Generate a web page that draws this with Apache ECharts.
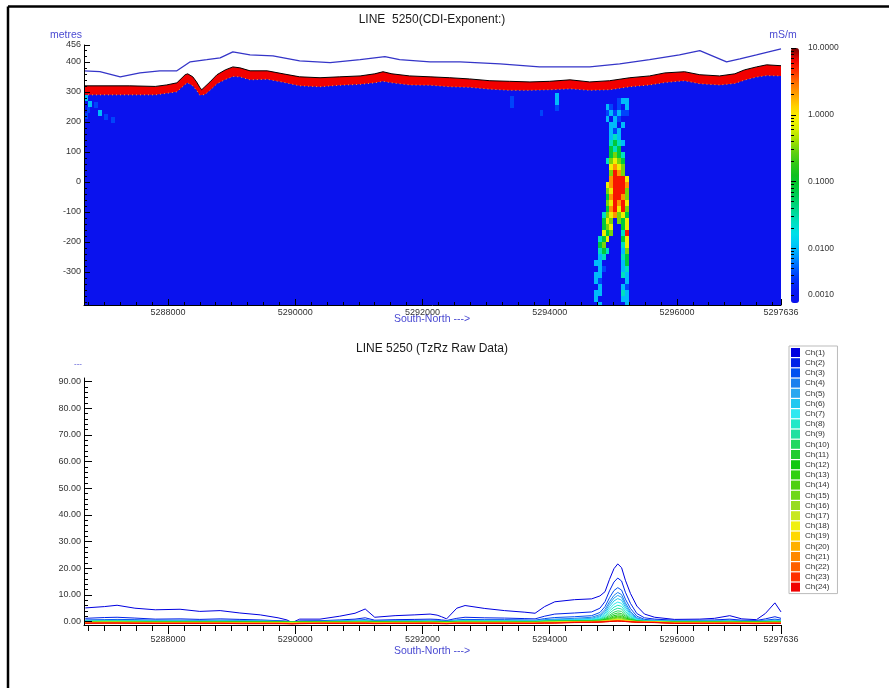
<!DOCTYPE html>
<html>
<head>
<meta charset="utf-8">
<script src="https://cdn.jsdelivr.net/npm/echarts@6.0.0/dist/echarts.min.js"></script>
<style>
  html, body { margin: 0; padding: 0; background: #fff; }
  #chart { width: 889px; height: 688px; }
</style>
</head>
<body>
<div id="chart"></div>
<script>
// ---------- Conductivity-depth section (line 5250) ----------
// Ground surface stations along the line (northing, m) and elevation (m)
const sectionX = [5286680, 5287400, 5287800, 5287980, 5288140, 5288270, 5288310, 5288390, 5288450, 5288500,
  5288530, 5288580, 5288660, 5288770, 5288900, 5289020, 5289130, 5289290, 5289560, 5289810,
  5290070, 5290390, 5290700, 5291020, 5291250, 5291380, 5291520, 5291800, 5292120, 5292430,
  5292740, 5293060, 5293370, 5293690, 5294000, 5294320, 5294630, 5294940, 5295260, 5295570,
  5295810, 5296120, 5296360, 5296670, 5296910, 5297060, 5297250, 5297410, 5297636];
const terrainTop = [320, 320, 318, 323, 330, 357, 360, 350, 333, 315,
  307, 317, 333, 357, 373, 383, 380, 370, 370, 360,
  350, 347, 350, 353, 360, 367, 360, 353, 350, 347,
  343, 337, 335, 333, 335, 340, 333, 337, 347, 353,
  363, 367, 357, 353, 360, 373, 383, 390, 387];
// thickness of the conductive surface layer (m)
const layerThick = [30, 30, 28, 28, 30, 32, 30, 30, 28, 26,
  24, 26, 28, 30, 32, 32, 30, 30, 28, 28,
  30, 30, 28, 28, 30, 32, 30, 30, 28, 30,
  28, 28, 30, 28, 28, 30, 28, 30, 30, 30,
  32, 30, 30, 30, 32, 34, 34, 36, 34];

// Sensor (flight) elevation
const flightX = [5286680, 5286930, 5287250, 5287560, 5287870, 5288140, 5288350, 5288610, 5288820, 5289020,
  5289290, 5289650, 5290070, 5290550, 5291020, 5291410, 5291640, 5292120, 5292590, 5293220,
  5293840, 5294160, 5294630, 5295100, 5295570, 5296040, 5296360, 5296780, 5296990, 5297250, 5297636];
const flightZ = [370, 367, 350, 363, 370, 370, 400, 407, 413, 433,
  423, 420, 403, 397, 407, 417, 407, 400, 400, 393,
  383, 383, 383, 393, 407, 423, 437, 400, 410, 423, 443];

// CDI cell classes -> log10(conductivity, mS/m)
const cdiClass = { b: -2.4, c: -2.0, t: -1.6, g: -1.1, l: -0.5, y: -0.1, o: 0.35, r: 0.75 };

// Conductor near 5295000: cells of 60 m x 20 m, first row tops at 280 m
const anomalyX0 = 5294700, anomalyDx = 60, anomalyTop = 280, anomalyDz = 20;
const anomalyRows = [
  "......bcc..",
  "...cb.b.c..",
  "...bcbcbb..",
  "...c.cb....",
  "....cc.c...",
  "....cbc....",
  "....ctc....",
  "....tgtc...",
  "....gtg....",
  "....glgt...",
  "...tlylg...",
  "....yoyl...",
  "....lrol...",
  "....orrry..",
  "...yorrro..",
  "...lyrrrl..",
  "...gorrol..",
  "...lyrory..",
  "...goryrl..",
  "..tlyolyg..",
  "..gyl.lgy..",
  "..gly..gy..",
  "..ygl..tr..",
  ".tgy...gy..",
  ".gl....ty..",
  ".tgt...cl..",
  ".ct....tg..",
  "cc.....cg..",
  ".cb....ct..",
  "cc.....tc..",
  "cb......c..",
  ".c.....cb..",
  "cc.....tc..",
  "c......cc..",
  ".c......c.."
];
// isolated shallow cells: [northing, cell top elevation, class]
const shallowCells = [
  [5286690, 290, 'c'], [5286750, 270, 'c'], [5286720, 250, 'b'], [5286840, 265, 'b'],
  [5286900, 240, 'c'], [5287000, 225, 'b'], [5287100, 215, 'b'], [5286690, 230, 'b'],
  [5293380, 285, 'b'], [5293380, 265, 'b'], [5293840, 240, 'b'],
  [5294080, 295, 'c'], [5294080, 275, 'c'], [5294080, 255, 'b']
];

// ---------- TzRz raw data, 24 channels ----------
const tzX = [5286700, 5287000, 5287200, 5287480, 5287800, 5288190, 5288500, 5288820, 5289130, 5289450,
  5289730, 5289870, 5289950, 5290070, 5290390, 5290700, 5290940, 5291100, 5291250, 5291570,
  5291880, 5292120, 5292230, 5292300, 5292380, 5292540, 5292670, 5292980, 5293290, 5293610,
  5293770, 5293920, 5294080, 5294390, 5294660, 5294790, 5294870, 5294940, 5295010, 5295070,
  5295130, 5295190, 5295270, 5295370, 5295490, 5295650, 5295960, 5296360, 5296590, 5296830,
  5297020, 5297250, 5297390, 5297540, 5297636];
const ch01 = [5.1, 5.6, 6.1, 5.0, 4.4, 4.6, 3.8, 4.1, 3.2, 2.5, 1.4, 0.6, -0.4, 0.9, 0.9, 2.0, 3.1, 4.7, 1.6, 2.2, 2.5, 2.8, 2.4, 1.8, 1.0, 5.0, 6.0, 4.9, 4.1, 3.5, 3.1, 5.6, 7.4, 8.2, 8.5, 9.6, 11.2, 15.8, 19.8, 21.6, 20.2, 15.5, 10.5, 5.8, 2.8, 1.6, 0.8, 0.9, 1.2, 2.2, 1.0, 0.7, 3.0, 7.0, 3.6];
const ch02 = [1.2, 1.5, 1.6, 1.3, 0.9, 1.0, 0.8, 1.0, 0.8, 0.6, 0.3, 0.1, -0.3, 0.2, 0.3, 0.6, 0.9, 1.4, 0.5, 0.7, 0.8, 0.9, 0.8, 0.6, 0.4, 1.2, 1.6, 1.4, 1.3, 1.1, 1.0, 2.0, 2.8, 3.2, 3.6, 5.0, 7.5, 11.5, 14.8, 16.3, 15.2, 11.0, 6.8, 3.0, 1.4, 0.9, 0.5, 0.5, 0.6, 0.9, 0.5, 0.4, 1.0, 1.8, 1.2];
const ch03 = [0.6, 0.7, 0.8, 0.7, 0.5, 0.5, 0.4, 0.5, 0.4, 0.3, 0.2, 0.1, -0.2, 0.1, 0.2, 0.3, 0.5, 0.7, 0.3, 0.4, 0.4, 0.5, 0.4, 0.3, 0.2, 0.6, 0.8, 0.7, 0.7, 0.6, 0.5, 1.1, 1.5, 1.8, 2.2, 3.4, 5.6, 8.9, 11.6, 12.7, 11.8, 8.4, 4.9, 2.0, 0.8, 0.5, 0.3, 0.3, 0.3, 0.5, 0.3, 0.2, 0.5, 0.9, 0.6];
const ch04 = [0.4, 0.5, 0.5, 0.4, 0.3, 0.3, 0.3, 0.3, 0.3, 0.2, 0.1, 0.0, -0.2, 0.1, 0.1, 0.2, 0.3, 0.4, 0.2, 0.2, 0.3, 0.3, 0.3, 0.2, 0.1, 0.4, 0.5, 0.4, 0.4, 0.4, 0.3, 0.7, 0.9, 1.2, 1.6, 2.6, 4.5, 7.4, 9.8, 10.9, 10.1, 7.0, 3.8, 1.4, 0.5, 0.3, 0.2, 0.2, 0.2, 0.3, 0.2, 0.1, 0.3, 0.5, 0.4];
const ch05 = [0.3, 0.4, 0.4, 0.3, 0.2, 0.2, 0.2, 0.2, 0.2, 0.2, 0.1, 0.0, -0.2, 0.0, 0.1, 0.2, 0.2, 0.3, 0.1, 0.2, 0.2, 0.2, 0.2, 0.1, 0.1, 0.3, 0.4, 0.3, 0.3, 0.3, 0.2, 0.5, 0.7, 0.9, 1.2, 2.1, 3.8, 6.5, 8.8, 9.8, 9.1, 6.2, 3.2, 1.1, 0.4, 0.2, 0.2, 0.1, 0.2, 0.2, 0.1, 0.1, 0.2, 0.4, 0.3];
const ch06 = [0.2, 0.3, 0.3, 0.2, 0.2, 0.2, 0.1, 0.2, 0.1, 0.1, 0.0, 0.0, -0.2, 0.0, 0.0, 0.1, 0.2, 0.2, 0.1, 0.1, 0.1, 0.2, 0.1, 0.1, 0.0, 0.2, 0.3, 0.2, 0.2, 0.2, 0.2, 0.4, 0.5, 0.7, 0.9, 1.7, 3.2, 5.6, 7.7, 8.6, 8.0, 5.4, 2.7, 0.9, 0.3, 0.2, 0.1, 0.1, 0.1, 0.2, 0.1, 0.0, 0.1, 0.3, 0.2];
const ch07 = [0.2, 0.2, 0.2, 0.2, 0.1, 0.1, 0.1, 0.1, 0.1, 0.1, 0.0, -0.1, -0.2, 0.0, 0.0, 0.1, 0.1, 0.2, 0.0, 0.1, 0.1, 0.1, 0.1, 0.0, 0.0, 0.2, 0.2, 0.2, 0.2, 0.1, 0.1, 0.3, 0.4, 0.5, 0.7, 1.3, 2.6, 4.7, 6.5, 7.3, 6.8, 4.6, 2.2, 0.7, 0.2, 0.1, 0.1, 0.1, 0.1, 0.1, 0.0, 0.0, 0.1, 0.2, 0.1];
const ch08 = [0.1, 0.2, 0.2, 0.1, 0.1, 0.1, 0.0, 0.1, 0.0, 0.0, 0.0, -0.1, -0.2, -0.1, 0.0, 0.0, 0.1, 0.1, 0.0, 0.0, 0.1, 0.1, 0.0, 0.0, -0.1, 0.1, 0.2, 0.1, 0.1, 0.1, 0.1, 0.2, 0.3, 0.4, 0.5, 1.0, 2.1, 3.9, 5.4, 6.1, 5.7, 3.8, 1.8, 0.5, 0.2, 0.1, 0.0, 0.0, 0.0, 0.1, 0.0, -0.1, 0.0, 0.1, 0.1];
const ch09 = [0.1, 0.1, 0.1, 0.1, 0.0, 0.0, 0.0, 0.0, 0.0, 0.0, -0.1, -0.1, -0.2, -0.1, 0.0, 0.0, 0.0, 0.1, 0.0, 0.0, 0.0, 0.0, 0.0, -0.1, -0.1, 0.1, 0.1, 0.1, 0.1, 0.0, 0.0, 0.2, 0.2, 0.3, 0.4, 0.8, 1.6, 3.1, 4.4, 5.0, 4.7, 3.1, 1.4, 0.4, 0.1, 0.1, 0.0, 0.0, 0.0, 0.0, 0.0, -0.1, 0.0, 0.1, 0.0];
const ch10 = [0.0, 0.1, 0.1, 0.0, 0.0, 0.0, 0.0, 0.0, -0.1, -0.1, -0.1, -0.1, -0.2, -0.1, -0.1, 0.0, 0.0, 0.0, -0.1, 0.0, 0.0, 0.0, 0.0, -0.1, -0.1, 0.0, 0.1, 0.0, 0.0, 0.0, 0.0, 0.1, 0.2, 0.2, 0.3, 0.6, 1.2, 2.4, 3.5, 4.0, 3.8, 2.5, 1.1, 0.3, 0.1, 0.0, 0.0, -0.1, 0.0, 0.0, -0.1, -0.1, 0.0, 0.0, 0.0];
const ch11 = [0.0, 0.0, 0.0, 0.0, -0.1, -0.1, -0.1, -0.1, -0.1, -0.1, -0.1, -0.2, -0.2, -0.1, -0.1, -0.1, 0.0, 0.0, -0.1, -0.1, -0.1, 0.0, -0.1, -0.1, -0.2, 0.0, 0.0, 0.0, 0.0, -0.1, -0.1, 0.1, 0.1, 0.2, 0.2, 0.4, 0.9, 1.9, 2.8, 3.2, 3.0, 2.0, 0.8, 0.2, 0.1, 0.0, -0.1, -0.1, -0.1, 0.0, -0.1, -0.1, -0.1, 0.0, -0.1];
const ch12 = [-0.1, 0.0, 0.0, -0.1, -0.1, -0.1, -0.1, -0.1, -0.1, -0.2, -0.2, -0.2, -0.3, -0.2, -0.1, -0.1, -0.1, 0.0, -0.1, -0.1, -0.1, -0.1, -0.1, -0.2, -0.2, -0.1, 0.0, -0.1, -0.1, -0.1, -0.1, 0.0, 0.1, 0.1, 0.2, 0.3, 0.7, 1.4, 2.2, 2.5, 2.4, 1.5, 0.6, 0.1, 0.0, 0.0, -0.1, -0.1, -0.1, -0.1, -0.1, -0.2, -0.1, -0.1, -0.1];
const ch13 = [-0.1, -0.1, -0.1, -0.1, -0.2, -0.2, -0.2, -0.2, -0.2, -0.2, -0.2, -0.3, -0.3, -0.2, -0.2, -0.2, -0.1, -0.1, -0.2, -0.2, -0.2, -0.1, -0.2, -0.2, -0.3, -0.1, -0.1, -0.1, -0.1, -0.2, -0.2, -0.1, 0.0, 0.1, 0.1, 0.2, 0.5, 1.1, 1.7, 2.0, 1.9, 1.2, 0.5, 0.1, 0.0, 0.0, -0.2, -0.2, -0.2, -0.1, -0.2, -0.2, -0.2, -0.1, -0.2];
const ch14 = [-0.2, -0.1, -0.1, -0.2, -0.2, -0.2, -0.2, -0.2, -0.3, -0.3, -0.3, -0.3, -0.4, -0.3, -0.2, -0.2, -0.2, -0.2, -0.3, -0.2, -0.2, -0.2, -0.2, -0.3, -0.3, -0.2, -0.2, -0.2, -0.2, -0.2, -0.2, -0.1, -0.1, 0.0, 0.1, 0.2, 0.4, 0.9, 1.4, 1.6, 1.5, 0.9, 0.4, 0.1, 0.0, -0.1, -0.2, -0.2, -0.2, -0.2, -0.2, -0.3, -0.2, -0.2, -0.2];
const ch15 = [-0.2, -0.2, -0.2, -0.2, -0.3, -0.3, -0.3, -0.3, -0.3, -0.3, -0.3, -0.4, -0.4, -0.3, -0.3, -0.3, -0.2, -0.2, -0.3, -0.3, -0.3, -0.2, -0.3, -0.3, -0.4, -0.2, -0.2, -0.2, -0.2, -0.3, -0.3, -0.2, -0.1, 0.0, 0.1, 0.1, 0.3, 0.7, 1.1, 1.3, 1.2, 0.7, 0.3, 0.0, 0.0, -0.1, -0.3, -0.3, -0.3, -0.2, -0.3, -0.3, -0.3, -0.2, -0.3];
const ch16 = [-0.3, -0.2, -0.2, -0.3, -0.3, -0.3, -0.3, -0.3, -0.4, -0.4, -0.4, -0.4, -0.5, -0.4, -0.3, -0.3, -0.3, -0.3, -0.4, -0.3, -0.3, -0.3, -0.3, -0.4, -0.4, -0.3, -0.3, -0.3, -0.3, -0.3, -0.3, -0.2, -0.2, 0.0, 0.0, 0.1, 0.2, 0.5, 0.8, 1.0, 0.9, 0.6, 0.2, 0.0, -0.1, -0.1, -0.3, -0.3, -0.3, -0.3, -0.3, -0.4, -0.3, -0.3, -0.3];
const ch17 = [-0.3, -0.3, -0.3, -0.3, -0.4, -0.4, -0.4, -0.4, -0.4, -0.4, -0.4, -0.5, -0.5, -0.4, -0.4, -0.4, -0.3, -0.3, -0.4, -0.4, -0.4, -0.3, -0.4, -0.4, -0.5, -0.3, -0.3, -0.3, -0.3, -0.4, -0.4, -0.3, -0.2, 0.0, 0.0, 0.1, 0.2, 0.4, 0.7, 0.8, 0.7, 0.4, 0.2, 0.0, -0.1, -0.1, -0.4, -0.4, -0.4, -0.3, -0.4, -0.4, -0.4, -0.3, -0.4];
const ch18 = [-0.4, -0.3, -0.3, -0.4, -0.4, -0.4, -0.4, -0.4, -0.5, -0.5, -0.5, -0.5, -0.6, -0.5, -0.4, -0.4, -0.4, -0.4, -0.5, -0.4, -0.4, -0.4, -0.4, -0.5, -0.5, -0.4, -0.4, -0.4, -0.4, -0.4, -0.4, -0.3, -0.3, -0.1, 0.0, 0.0, 0.1, 0.3, 0.5, 0.6, 0.5, 0.3, 0.1, -0.1, -0.1, -0.2, -0.4, -0.4, -0.4, -0.4, -0.4, -0.5, -0.4, -0.4, -0.4];
const ch19 = [-0.4, -0.4, -0.4, -0.4, -0.5, -0.5, -0.5, -0.5, -0.5, -0.5, -0.5, -0.6, -0.6, -0.5, -0.5, -0.5, -0.4, -0.4, -0.5, -0.5, -0.5, -0.4, -0.5, -0.5, -0.6, -0.4, -0.4, -0.4, -0.4, -0.5, -0.5, -0.4, -0.3, -0.1, -0.1, 0.0, 0.1, 0.2, 0.4, 0.5, 0.4, 0.3, 0.1, -0.1, -0.2, -0.2, -0.5, -0.5, -0.5, -0.4, -0.5, -0.5, -0.5, -0.4, -0.5];
const ch20 = [-0.5, -0.4, -0.4, -0.5, -0.5, -0.5, -0.5, -0.5, -0.6, -0.6, -0.6, -0.6, -0.7, -0.6, -0.5, -0.5, -0.5, -0.5, -0.6, -0.5, -0.5, -0.5, -0.5, -0.6, -0.6, -0.5, -0.5, -0.5, -0.5, -0.5, -0.5, -0.4, -0.4, -0.2, -0.1, 0.0, 0.1, 0.2, 0.3, 0.4, 0.3, 0.2, 0.0, -0.1, -0.2, -0.2, -0.5, -0.5, -0.5, -0.5, -0.5, -0.6, -0.5, -0.5, -0.5];
const ch21 = [-0.5, -0.5, -0.5, -0.5, -0.6, -0.6, -0.6, -0.6, -0.6, -0.6, -0.6, -0.7, -0.7, -0.6, -0.6, -0.6, -0.5, -0.5, -0.6, -0.6, -0.6, -0.5, -0.6, -0.6, -0.7, -0.5, -0.5, -0.5, -0.5, -0.6, -0.6, -0.5, -0.4, -0.2, -0.2, -0.1, 0.0, 0.1, 0.2, 0.3, 0.3, 0.1, 0.0, -0.2, -0.2, -0.3, -0.6, -0.6, -0.6, -0.5, -0.6, -0.6, -0.6, -0.5, -0.6];
const ch22 = [-0.6, -0.5, -0.5, -0.6, -0.6, -0.6, -0.6, -0.6, -0.7, -0.7, -0.7, -0.7, -0.8, -0.7, -0.6, -0.6, -0.6, -0.6, -0.7, -0.6, -0.6, -0.6, -0.6, -0.7, -0.7, -0.6, -0.6, -0.6, -0.6, -0.6, -0.6, -0.5, -0.5, -0.3, -0.2, -0.1, 0.0, 0.1, 0.2, 0.25, 0.2, 0.1, -0.1, -0.2, -0.3, -0.3, -0.6, -0.6, -0.6, -0.6, -0.6, -0.7, -0.6, -0.6, -0.6];
const ch23 = [-0.6, -0.6, -0.6, -0.6, -0.7, -0.7, -0.7, -0.7, -0.7, -0.7, -0.7, -0.8, -0.8, -0.7, -0.7, -0.7, -0.6, -0.6, -0.7, -0.7, -0.7, -0.6, -0.7, -0.7, -0.8, -0.6, -0.6, -0.6, -0.6, -0.7, -0.7, -0.6, -0.5, -0.3, -0.3, -0.2, -0.1, 0.0, 0.1, 0.2, 0.1, 0.0, -0.1, -0.2, -0.3, -0.3, -0.7, -0.7, -0.7, -0.6, -0.7, -0.7, -0.7, -0.6, -0.7];
const ch24 = [-0.7, -0.6, -0.6, -0.7, -0.7, -0.7, -0.7, -0.7, -0.8, -0.8, -0.8, -0.8, -0.9, -0.8, -0.7, -0.7, -0.7, -0.7, -0.8, -0.7, -0.7, -0.7, -0.7, -0.8, -0.8, -0.7, -0.7, -0.7, -0.7, -0.7, -0.7, -0.6, -0.6, -0.4, -0.3, -0.2, -0.1, 0.0, 0.1, 0.15, 0.1, 0.0, -0.1, -0.3, -0.3, -0.4, -0.7, -0.7, -0.7, -0.7, -0.7, -0.8, -0.7, -0.7, -0.7];
const channels = [ch01, ch02, ch03, ch04, ch05, ch06, ch07, ch08, ch09, ch10, ch11, ch12,
  ch13, ch14, ch15, ch16, ch17, ch18, ch19, ch20, ch21, ch22, ch23, ch24];
const channelNames = channels.map((_, i) => 'Ch(' + (i + 1) + ')');
const channelColors = ['#0000e0', '#0022e8', '#0050f0', '#1a80ee', '#2aa8f0', '#22c8f0', '#30e8f0', '#20e8c8',
  '#20e0a0', '#20d860', '#20cc30', '#10c810', '#30d010', '#50d010', '#70d818', '#98dc20',
  '#c8e820', '#f0f010', '#ffd800', '#ffb000', '#ff8800', '#ff6000', '#ff3000', '#f00000'];

// ---------- Axis labels ----------
const northTicks = [5288000, 5290000, 5292000, 5294000, 5296000, 5297636];
const elevTicks = [456, 400, 300, 200, 100, 0, -100, -200, -300];
const tzTicks = [0, 10, 20, 30, 40, 50, 60, 70, 80, 90];
const cbTicks = [1, 0, -1, -2, -2.69];
const cbLabels = ['10.0000', '1.0000', '0.1000', '0.0100', '0.0010'];

// ---------- build ----------
const X_MIN = 5286680, X_MAX = 5297636;
const Z_MIN = -410, Z_MAX = 456;
const CB_MIN = -2.82, CB_MAX = 1;
const FONT = '"Liberation Sans", Arial, sans-serif';
const UNIT_BLUE = '#4a4ad2';
const BODY_BLUE = '#0a12ee';
// colour scale, evenly spaced from CB_MIN to CB_MAX
const CDI_PALETTE = ['#0a12ee', '#0a18f0', '#0030f8', '#0060ff', '#0098ff', '#00c8f8', '#00e0e8', '#00e0c0',
  '#00d890', '#00d060', '#00c838', '#10c020', '#30c818', '#60d010', '#a0e000', '#d8f000',
  '#f8f000', '#ffd000', '#ffa000', '#ff7000', '#ff3000', '#f00000', '#700000'];

const cdiCells = [];
anomalyRows.forEach((row, i) => {
  const zTop = anomalyTop - i * anomalyDz;
  row.split('').forEach((code, j) => {
    if (code === '.') return;
    const x0 = anomalyX0 + j * anomalyDx;
    cdiCells.push([x0, x0 + anomalyDx, zTop, zTop - anomalyDz, cdiClass[code]]);
  });
});
shallowCells.forEach(([x, z, code]) => {
  cdiCells.push([x, x + anomalyDx, z, z - anomalyDz, cdiClass[code]]);
});

const minorNorth = [];
for (let x = 5286750; x <= 5297500; x += 250) minorNorth.push(x);
const minorElev = [];
for (let z = -400; z <= 440; z += 20) minorElev.push(z);
const minorTz = [];
for (let v = 0; v <= 90; v += 2) minorTz.push(v);
const cbMinor = [];
for (let d = -3; d < 1; d++) {
  for (let k = 2; k <= 9; k++) {
    const v = d + Math.log10(k);
    if (v > CB_MIN && v < CB_MAX) cbMinor.push(v);
  }
}

const labelStyle = { fontSize: 9, color: '#333', fontFamily: FONT };
const plain = v => String(v);

function tickAxis(grid, min, max, pos, opts) {
  return {
    gridIndex: grid, type: 'value', min: min, max: max, position: pos, z: 10,
    axisLine: { show: !!opts.line, onZero: false, lineStyle: { color: '#000', width: 1 } },
    axisTick: { show: !!opts.ticks, inside: !!opts.inside, length: opts.len || 4,
      customValues: opts.ticks, lineStyle: { color: '#000' } },
    axisLabel: opts.labels
      ? Object.assign({ customValues: opts.labels, margin: opts.margin, formatter: opts.fmt || plain }, labelStyle, opts.labelExtra || {})
      : { show: false },
    splitLine: { show: false }
  };
}

const chart = echarts.init(document.getElementById('chart'), null, { renderer: 'canvas' });

const series = [
  { // conductive surface layer, from ground surface down
    type: 'line', xAxisIndex: 0, yAxisIndex: 0, silent: true, symbol: 'none',
    data: sectionX.map((x, i) => [x, terrainTop[i]]),
    lineStyle: { color: '#000', width: 1 },
    areaStyle: { color: '#f20000', opacity: 1, origin: 'start' },
    z: 2
  },
  { // resistive body below the surface layer
    type: 'line', xAxisIndex: 0, yAxisIndex: 0, silent: true, symbol: 'none',
    data: sectionX.map((x, i) => [x, terrainTop[i] - layerThick[i]]),
    lineStyle: { color: '#ffa020', width: 1, type: [1, 3] },
    areaStyle: { color: BODY_BLUE, opacity: 1, origin: 'start' },
    z: 3
  },
  { // CDI cells
    type: 'custom', xAxisIndex: 0, yAxisIndex: 0, silent: true,
    dimensions: ['x0', 'x1', 'zTop', 'zBot', 'logSigma'],
    encode: { x: [0, 1], y: [2, 3] },
    data: cdiCells,
    renderItem: function (params, api) {
      const p0 = api.coord([api.value(0), api.value(2)]);
      const p1 = api.coord([api.value(1), Math.max(api.value(3), Z_MIN)]);
      const x = Math.round(p0[0]), y = Math.round(p0[1]);
      return {
        type: 'rect',
        shape: { x: x, y: y, width: Math.round(p1[0]) - x, height: Math.round(p1[1]) - y },
        style: { fill: api.visual('color') }
      };
    },
    z: 4
  },
  { // sensor elevation
    type: 'line', xAxisIndex: 0, yAxisIndex: 0, silent: true, symbol: 'none',
    data: flightX.map((x, i) => [x, flightZ[i]]),
    lineStyle: { color: '#3535c8', width: 1.3 },
    z: 5
  }
];
channels.forEach((vals, k) => {
  series.push({
    type: 'line', name: channelNames[k], xAxisIndex: 2, yAxisIndex: 2, silent: true,
    symbol: 'none', color: channelColors[k],
    data: tzX.map((x, i) => [x, vals[i]]),
    lineStyle: { color: channelColors[k], width: 1 },
    z: 2
  });
});

const option = {
  animation: false,
  backgroundColor: '#fff',
  textStyle: { fontFamily: FONT },
  grid: [
    { left: 84, top: 45, width: 697, height: 260, show: false },
    { left: 84, top: 378, width: 697, height: 247, show: false },
    { left: 791, top: 48, width: 8, height: 255, show: false }
  ],
  xAxis: [
    tickAxis(0, X_MIN, X_MAX, 'bottom', { line: true, ticks: northTicks, inside: true, len: 6, labels: northTicks, margin: 3 }),
    tickAxis(0, X_MIN, X_MAX, 'bottom', { ticks: minorNorth, inside: true, len: 3 }),
    tickAxis(1, X_MIN, X_MAX, 'bottom', { line: true, ticks: northTicks, inside: false, len: 9, labels: northTicks, margin: 10 }),
    tickAxis(1, X_MIN, X_MAX, 'bottom', { ticks: minorNorth, inside: false, len: 6 }),
    { gridIndex: 2, type: 'value', min: 0, max: 1, show: false }
  ],
  yAxis: [
    tickAxis(0, Z_MIN, Z_MAX, 'left', { line: true, ticks: elevTicks, inside: true, len: 6, labels: elevTicks, margin: 3 }),
    tickAxis(0, Z_MIN, Z_MAX, 'left', { ticks: minorElev, inside: true, len: 3 }),
    tickAxis(1, -1.3, 91.3, 'left', { line: true, ticks: tzTicks, inside: true, len: 8, labels: tzTicks, margin: 3, fmt: v => v.toFixed(2) }),
    tickAxis(1, -1.3, 91.3, 'left', { ticks: minorTz, inside: true, len: 4 }),
    tickAxis(2, CB_MIN, CB_MAX, 'right', { labels: cbTicks, margin: 9,
      fmt: v => cbLabels[cbTicks.indexOf(v)], labelExtra: { fontSize: 8.5 } }),
    tickAxis(2, CB_MIN, CB_MAX, 'left', { ticks: [1, 0, -1, -2], inside: true, len: 5 }),
    tickAxis(2, CB_MIN, CB_MAX, 'left', { ticks: cbMinor, inside: true, len: 3 })
  ],
  visualMap: {
    type: 'continuous', seriesIndex: 2, dimension: 4,
    min: CB_MIN, max: CB_MAX, calculable: false, hoverLink: false,
    orient: 'vertical', left: 791, top: 48, itemWidth: 8, itemHeight: 255, padding: 0,
    inRange: { color: CDI_PALETTE },
    z: 4
  },
  legend: {
    data: channelNames, orient: 'vertical', left: 789, top: 346,
    icon: 'rect', itemWidth: 9, itemHeight: 9, itemGap: 1.2, selectedMode: false,
    padding: [2, 8, 2, 2], borderColor: '#bbb', borderWidth: 1,
    textStyle: { fontSize: 8, color: '#333', fontFamily: FONT, lineHeight: 9 }
  },
  graphic: [
    { type: 'line', shape: { x1: 8, y1: 6.5, x2: 889, y2: 6.5 }, style: { stroke: '#000', lineWidth: 2.5 }, silent: true },
    { type: 'line', shape: { x1: 8, y1: 6.5, x2: 8, y2: 688 }, style: { stroke: '#000', lineWidth: 2.5 }, silent: true },
    { type: 'text', x: 432, y: 20, silent: true,
      style: { text: 'LINE  5250(CDI-Exponent:)', align: 'center', verticalAlign: 'middle', font: '12px ' + FONT, fill: '#1a1a1a' } },
    { type: 'text', x: 82, y: 35, silent: true,
      style: { text: 'metres', align: 'right', verticalAlign: 'middle', font: '10.5px ' + FONT, fill: UNIT_BLUE } },
    { type: 'text', x: 783, y: 35, silent: true,
      style: { text: 'mS/m', align: 'center', verticalAlign: 'middle', font: '10.5px ' + FONT, fill: UNIT_BLUE } },
    { type: 'text', x: 432, y: 319, silent: true,
      style: { text: 'South-North --->', align: 'center', verticalAlign: 'middle', font: '10.5px ' + FONT, fill: UNIT_BLUE } },
    { type: 'text', x: 432, y: 349, silent: true,
      style: { text: 'LINE 5250 (TzRz Raw Data)', align: 'center', verticalAlign: 'middle', font: '12px ' + FONT, fill: '#1a1a1a' } },
    { type: 'text', x: 82, y: 364, silent: true,
      style: { text: '---', align: 'right', verticalAlign: 'middle', font: '8px ' + FONT, fill: UNIT_BLUE } },
    { type: 'text', x: 432, y: 651, silent: true,
      style: { text: 'South-North --->', align: 'center', verticalAlign: 'middle', font: '10.5px ' + FONT, fill: UNIT_BLUE } }
  ],
  series: series
};

chart.setOption(option);
</script>
</body>
</html>
